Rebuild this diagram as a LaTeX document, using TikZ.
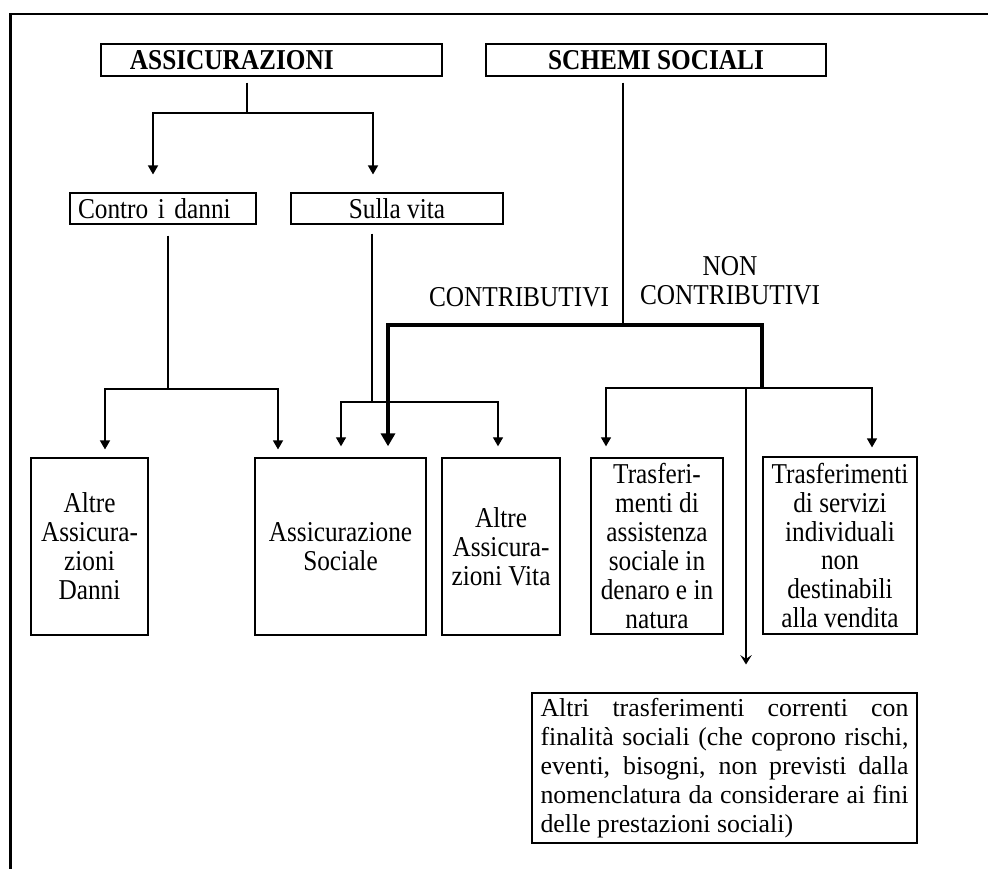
\documentclass[tikz,border=0pt]{standalone}
\usepackage{fontspec}
\setmainfont{Liberation Serif}[FakeStretch=0.88]
\newfontfamily\plainSerif{Liberation Serif}
\usetikzlibrary{arrows.meta, calc}
\newcommand{\diagFont}{\fontsize{13.8}{13.9}\selectfont}
\tikzstyle{thinLine}=[draw=black, line width=0.6pt]
\tikzstyle{thickLine}=[draw=black, line width=1.6pt]
\tikzstyle{frameLine}=[draw=black, line width=1pt]
\tikzstyle{arrow}=[thinLine, -{Triangle[width=4.8pt,length=4.3pt]}]
\tikzstyle{thickArrow}=[thickLine, -{Triangle[width=6.7pt,length=6.2pt]}]
\tikzstyle{openArrow}=[thinLine, -{Stealth[width=5.5pt,length=4.5pt,inset=1.8pt]}]
\tikzstyle{boxNode}=[draw=black, line width=0.6pt, inner sep=2pt, align=center, font=\diagFont]
\tikzstyle{headNode}=[boxNode, minimum height=15.4pt, font=\diagFont\bfseries]
\tikzstyle{tallNode}=[boxNode, minimum height=85pt]
\tikzstyle{labelText}=[inner sep=0pt, align=center, font=\diagFont]

\begin{document}
\begin{tikzpicture}[x=0.48pt, y=-0.48pt]
  \useasboundingbox (0,0) rectangle (988,869);
  % frame
  \coordinate (fTop) at (10.5,14);
  \coordinate (fRight) at (988,14);
  \coordinate (fBottom) at (10.5,869);
  \draw[frameLine] (fRight) -- (fTop) -- (fBottom);

  \node[headNode, minimum width=163.7pt, text width=135.9pt, inner xsep=13.9pt,
    align=left] (assic) at (271.5,60) {ASSICURAZIONI};
  \node[headNode, minimum width=163.2pt] (schemi) at (656,60) {SCHEMI SOCIALI};

  \node[boxNode, minimum width=89.3pt, minimum height=14.9pt, text width=81.6pt,
    inner xsep=3.85pt, align=left] (contro) at (163,208.5) {Contro i danni};
  \node[boxNode, minimum width=101.8pt, minimum height=14.9pt] (sulla) at (397,208.5) {Sulla vita};

  \node[tallNode, minimum width=56.2pt] (danni) at (89.5,546.5) {Altre\\Assicura-\\zioni\\Danni};
  \node[tallNode, minimum width=82.1pt] (sociale) at (340.5,546.5) {Assicurazione\\Sociale};
  \node[tallNode, minimum width=56.6pt] (vita) at (501,546.5) {Altre\\Assicura-\\zioni Vita};
  \node[tallNode, minimum width=63.4pt, minimum height=84.5pt] (assist) at (657,546)
    {Trasferi-\\menti di\\assistenza\\sociale in\\denaro e in\\natura};
  \node[tallNode, minimum width=73.9pt] (servizi) at (840,545.5)
    {Trasferimenti\\di servizi\\individuali\\non\\destinabili\\alla vendita};
  \node[boxNode, minimum width=184.8pt, minimum height=72pt, text width=176.6pt,
    inner xsep=4.1pt, inner ysep=1pt, align=justify,
    font=\plainSerif\fontsize{12.4}{13.9}\selectfont] (altri) at (724.5,768)
    {\tolerance=10000 Altri trasferimenti correnti con\linebreak
     finalità sociali (che coprono rischi,\linebreak
     eventi, bisogni, non previsti dalla\linebreak
     nomenclatura da considerare ai fini\linebreak
     delle prestazioni sociali)};

  \node[labelText, anchor=base] (contrib) at (519,306) {CONTRIBUTIVI};
  \node[labelText] (noncontrib) at (730,281) {NON\\CONTRIBUTIVI};

  % assicurazioni
  \coordinate (aL) at (153,113);
  \coordinate (aM) at (247,113);
  \coordinate (aR) at (373,113);
  \draw[thinLine, shorten <=2.9pt] (aM |- assic.south) -- (aM);
  \draw[arrow, shorten >=8.6pt] (aM) -| (aL |- contro.north);
  \draw[arrow, shorten >=8.6pt] (aM) -| (aR |- sulla.north);

  % contro i danni
  \coordinate (cL) at (105,389);
  \coordinate (cM) at (168,389);
  \coordinate (cR) at (278,389);
  \draw[thinLine, shorten <=5.3pt] (cM |- contro.south) -- (cM);
  \draw[arrow, shorten >=3.8pt] (cM) -| (cL |- danni.north);
  \draw[arrow, shorten >=3.8pt] (cM) -| (cR |- sociale.north);

  % sulla vita
  \coordinate (sL) at (341,402);
  \coordinate (sM) at (372,402);
  \coordinate (sR) at (498,402);
  \draw[thinLine, shorten <=4.3pt] (sM |- sulla.south) -- (sM);
  \draw[arrow, shorten >=5.3pt] (sM) -| (sL |- sociale.north);
  \draw[arrow, shorten >=5.3pt] (sM) -| (sR |- vita.north);

  % schemi sociali
  \coordinate (tL) at (388,325);
  \coordinate (tM) at (623,325);
  \coordinate (tR) at (762,325);
  \coordinate (nM) at (762,388);
  \draw[thinLine, shorten <=2.9pt] (tM |- schemi.south) -- (tM);
  \draw[thickArrow, shorten >=5.3pt] (nM) -- (tR) -- (tL) -- (tL |- sociale.north);

  % non contributivi
  \coordinate (nL) at (606,388);
  \coordinate (nD) at (746,388);
  \coordinate (nR) at (872,388);
  \draw[arrow, shorten >=5.3pt] (nM) -| (nL |- assist.north);
  \draw[arrow, shorten >=4.3pt] (nM) -| (nR |- servizi.north);
  \draw[openArrow, shorten >=13.4pt] (nD) -- (nD |- altri.north);
\end{tikzpicture}
\end{document}
